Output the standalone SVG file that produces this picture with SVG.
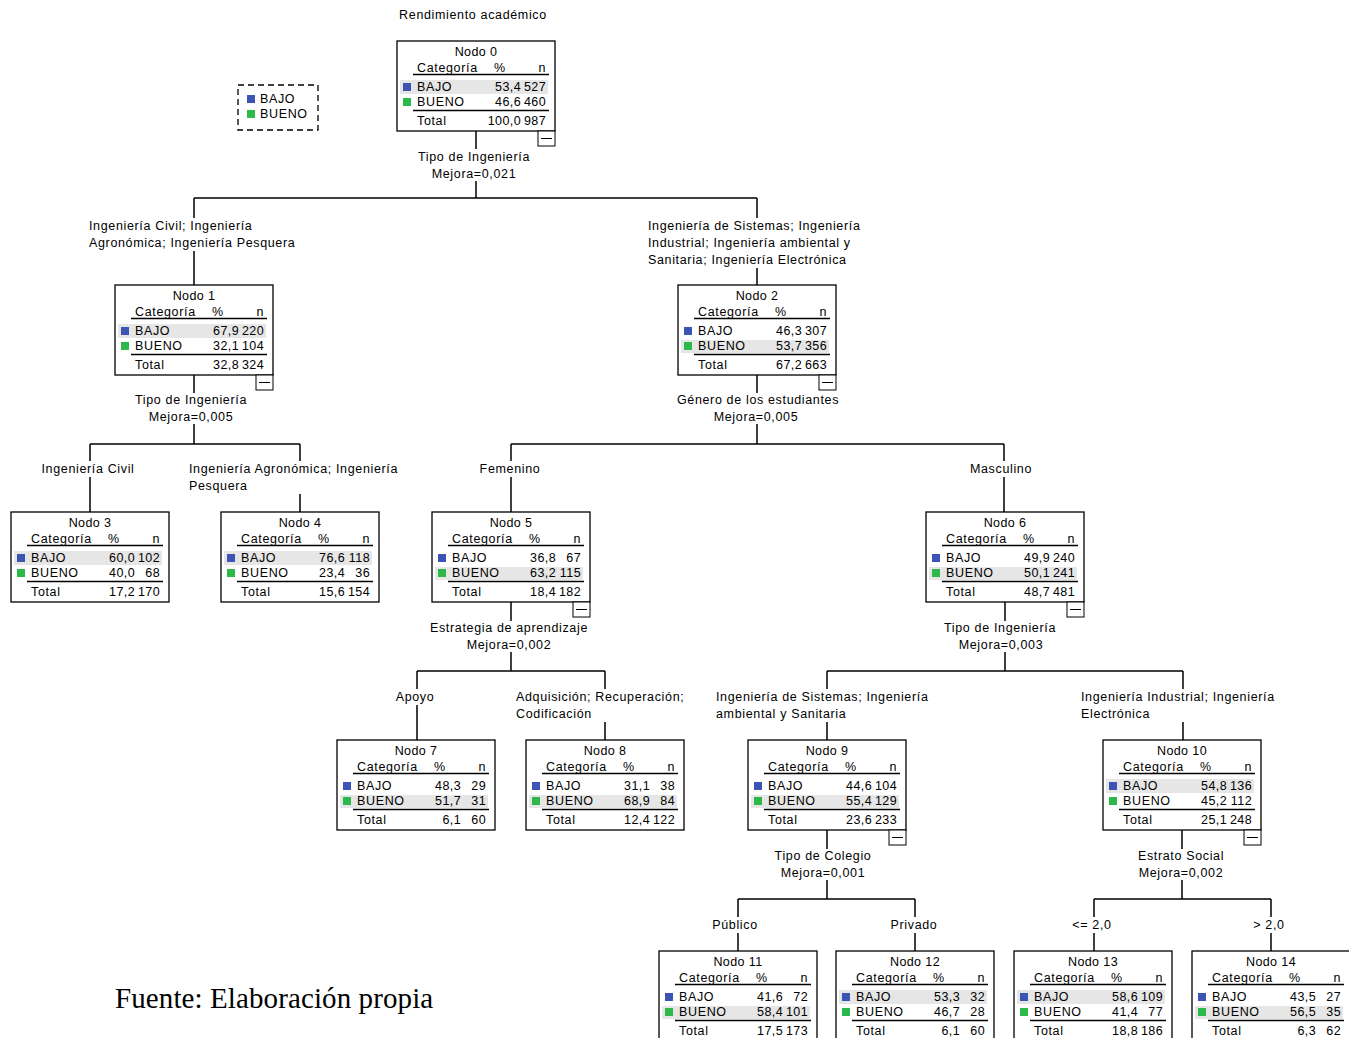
<svg xmlns="http://www.w3.org/2000/svg" width="1349" height="1038" viewBox="0 0 1349 1038">
<style>
text{font-family:"Liberation Sans",Arial,sans-serif;font-size:12.5px;letter-spacing:0.65px;fill:#000}
.nd text{letter-spacing:0.4px}
.c{text-anchor:middle}
.r{text-anchor:end}
.box{fill:#fff;stroke:#000;stroke-width:1.3}
.hl{fill:#e6e6e6}
.rule{stroke:#000;stroke-width:1.5}
.sb{fill:#3c55b4}
.sg{fill:#2db84b}
.mn{fill:#fff;stroke:#000;stroke-width:1}
.conn path{fill:none;stroke:#000;stroke-width:1.5}
.src{font-family:"Liberation Serif","Times New Roman",serif;font-size:29px;letter-spacing:0.1px}
</style>
<defs>
<g id="frame">
<rect class="box" x="0" y="0" width="158" height="90"/>
</g>
<g id="hdr">
<text x="20" y="31">Categoría</text>
<text class="c" x="103" y="31">%</text>
<text class="r" x="149" y="31">n</text>
<line class="rule" x1="16" y1="33.5" x2="152" y2="33.5"/>
<rect class="sb" x="6" y="42" width="8" height="8"/>
<text x="20" y="50">BAJO</text>
<rect class="sg" x="6" y="57" width="8" height="8"/>
<text x="20" y="65">BUENO</text>
<line class="rule" x1="16" y1="69.5" x2="152" y2="69.5"/>
<text x="20" y="84">Total</text>
</g>
<g id="hl1"><rect class="hl" x="3" y="39" width="148" height="14"/></g>
<g id="hl2"><rect class="hl" x="3" y="55" width="148" height="13"/></g>
<g id="minus">
<rect class="mn" x="141" y="90" width="17" height="15"/>
<line stroke="#000" stroke-width="1" x1="144" y1="97.5" x2="155" y2="97.5"/>
</g>
</defs>

<text class="c" x="473" y="19">Rendimiento académico</text>

<g id="legend">
<rect x="238" y="85" width="80" height="45" fill="none" stroke="#000" stroke-width="1.3" stroke-dasharray="6,4"/>
<rect class="sb" x="247" y="95" width="8" height="8"/>
<text x="260" y="103">BAJO</text>
<rect class="sg" x="247" y="110" width="8" height="8"/>
<text x="260" y="118">BUENO</text>
</g>

<g id="connectors" class="conn">
<path d="M476 130V149M476 181V198M194 198H757M194 198V218M194 251V285M757 198V218M757 268V285"/>
<path d="M194 374V393M194 424V444M90 444H300M90 444V461M90 477V512M300 444V461M300 494V512"/>
<path d="M757 374V393M757 424V444M511 444H1004M511 444V461M511 477V512M1004 444V461M1004 477V512"/>
<path d="M511 602V621M511 652V671M417 671H605M417 671V689M417 705V740M605 671V689M605 722V740"/>
<path d="M1005 602V621M1005 652V671M827 671H1183M827 671V689M827 722V740M1183 671V689M1183 722V740"/>
<path d="M827 830V849M827 880V899M738 899H915M738 899V917M738 933V951M915 899V917M915 933V951"/>
<path d="M1182 830V849M1182 880V899M1094 899H1271M1094 899V917M1094 933V951M1271 899V917M1271 933V951"/>
</g>

<g id="connector-labels">
<text class="c" x="474" y="161">Tipo de Ingeniería</text>
<text class="c" x="474" y="178">Mejora=0,021</text>
<text x="89" y="230">Ingeniería Civil; Ingeniería</text>
<text x="89" y="247">Agronómica; Ingeniería Pesquera</text>
<text x="648" y="230">Ingeniería de Sistemas; Ingeniería</text>
<text x="648" y="247">Industrial; Ingeniería ambiental y</text>
<text x="648" y="264">Sanitaria; Ingeniería Electrónica</text>
<text class="c" x="191" y="404">Tipo de Ingeniería</text>
<text class="c" x="191" y="421">Mejora=0,005</text>
<text class="c" x="88" y="473">Ingeniería Civil</text>
<text x="189" y="473">Ingeniería Agronómica; Ingeniería</text>
<text x="189" y="490">Pesquera</text>
<text class="c" x="758" y="404">Género de los estudiantes</text>
<text class="c" x="756" y="421">Mejora=0,005</text>
<text class="c" x="510" y="473">Femenino</text>
<text class="c" x="1001" y="473">Masculino</text>
<text class="c" x="509" y="632">Estrategia de aprendizaje</text>
<text class="c" x="509" y="649">Mejora=0,002</text>
<text class="c" x="415" y="701">Apoyo</text>
<text x="516" y="701">Adquisición; Recuperación;</text>
<text x="516" y="718">Codificación</text>
<text class="c" x="1000" y="632">Tipo de Ingeniería</text>
<text class="c" x="1001" y="649">Mejora=0,003</text>
<text x="716" y="701">Ingeniería de Sistemas; Ingeniería</text>
<text x="716" y="718">ambiental y Sanitaria</text>
<text x="1081" y="701">Ingeniería Industrial; Ingeniería</text>
<text x="1081" y="718">Electrónica</text>
<text class="c" x="823" y="860">Tipo de Colegio</text>
<text class="c" x="823" y="877">Mejora=0,001</text>
<text class="c" x="735" y="929">Público</text>
<text class="c" x="914" y="929">Privado</text>
<text class="c" x="1181" y="860">Estrato Social</text>
<text class="c" x="1181" y="877">Mejora=0,002</text>
<text class="c" x="1092" y="929">&lt;= 2,0</text>
<text class="c" x="1269" y="929">&gt; 2,0</text>
</g>

<g id="node0" class="nd" transform="translate(397,41)">
<use href="#frame"/><use href="#hl1"/><use href="#hdr"/><use href="#minus"/>
<text class="c" x="79" y="15">Nodo 0</text>
<text class="r" x="124" y="50">53,4</text><text class="r" x="149" y="50">527</text>
<text class="r" x="124" y="65">46,6</text><text class="r" x="149" y="65">460</text>
<text class="r" x="124" y="84">100,0</text><text class="r" x="149" y="84">987</text>
</g>

<g id="node1" class="nd" transform="translate(115,285)">
<use href="#frame"/><use href="#hl1"/><use href="#hdr"/><use href="#minus"/>
<text class="c" x="79" y="15">Nodo 1</text>
<text class="r" x="124" y="50">67,9</text><text class="r" x="149" y="50">220</text>
<text class="r" x="124" y="65">32,1</text><text class="r" x="149" y="65">104</text>
<text class="r" x="124" y="84">32,8</text><text class="r" x="149" y="84">324</text>
</g>

<g id="node2" class="nd" transform="translate(678,285)">
<use href="#frame"/><use href="#hl2"/><use href="#hdr"/><use href="#minus"/>
<text class="c" x="79" y="15">Nodo 2</text>
<text class="r" x="124" y="50">46,3</text><text class="r" x="149" y="50">307</text>
<text class="r" x="124" y="65">53,7</text><text class="r" x="149" y="65">356</text>
<text class="r" x="124" y="84">67,2</text><text class="r" x="149" y="84">663</text>
</g>

<g id="node3" class="nd" transform="translate(11,512)">
<use href="#frame"/><use href="#hl1"/><use href="#hdr"/>
<text class="c" x="79" y="15">Nodo 3</text>
<text class="r" x="124" y="50">60,0</text><text class="r" x="149" y="50">102</text>
<text class="r" x="124" y="65">40,0</text><text class="r" x="149" y="65">68</text>
<text class="r" x="124" y="84">17,2</text><text class="r" x="149" y="84">170</text>
</g>

<g id="node4" class="nd" transform="translate(221,512)">
<use href="#frame"/><use href="#hl1"/><use href="#hdr"/>
<text class="c" x="79" y="15">Nodo 4</text>
<text class="r" x="124" y="50">76,6</text><text class="r" x="149" y="50">118</text>
<text class="r" x="124" y="65">23,4</text><text class="r" x="149" y="65">36</text>
<text class="r" x="124" y="84">15,6</text><text class="r" x="149" y="84">154</text>
</g>

<g id="node5" class="nd" transform="translate(432,512)">
<use href="#frame"/><use href="#hl2"/><use href="#hdr"/><use href="#minus"/>
<text class="c" x="79" y="15">Nodo 5</text>
<text class="r" x="124" y="50">36,8</text><text class="r" x="149" y="50">67</text>
<text class="r" x="124" y="65">63,2</text><text class="r" x="149" y="65">115</text>
<text class="r" x="124" y="84">18,4</text><text class="r" x="149" y="84">182</text>
</g>

<g id="node6" class="nd" transform="translate(926,512)">
<use href="#frame"/><use href="#hl2"/><use href="#hdr"/><use href="#minus"/>
<text class="c" x="79" y="15">Nodo 6</text>
<text class="r" x="124" y="50">49,9</text><text class="r" x="149" y="50">240</text>
<text class="r" x="124" y="65">50,1</text><text class="r" x="149" y="65">241</text>
<text class="r" x="124" y="84">48,7</text><text class="r" x="149" y="84">481</text>
</g>

<g id="node7" class="nd" transform="translate(337,740)">
<use href="#frame"/><use href="#hl2"/><use href="#hdr"/>
<text class="c" x="79" y="15">Nodo 7</text>
<text class="r" x="124" y="50">48,3</text><text class="r" x="149" y="50">29</text>
<text class="r" x="124" y="65">51,7</text><text class="r" x="149" y="65">31</text>
<text class="r" x="124" y="84">6,1</text><text class="r" x="149" y="84">60</text>
</g>

<g id="node8" class="nd" transform="translate(526,740)">
<use href="#frame"/><use href="#hl2"/><use href="#hdr"/>
<text class="c" x="79" y="15">Nodo 8</text>
<text class="r" x="124" y="50">31,1</text><text class="r" x="149" y="50">38</text>
<text class="r" x="124" y="65">68,9</text><text class="r" x="149" y="65">84</text>
<text class="r" x="124" y="84">12,4</text><text class="r" x="149" y="84">122</text>
</g>

<g id="node9" class="nd" transform="translate(748,740)">
<use href="#frame"/><use href="#hl2"/><use href="#hdr"/><use href="#minus"/>
<text class="c" x="79" y="15">Nodo 9</text>
<text class="r" x="124" y="50">44,6</text><text class="r" x="149" y="50">104</text>
<text class="r" x="124" y="65">55,4</text><text class="r" x="149" y="65">129</text>
<text class="r" x="124" y="84">23,6</text><text class="r" x="149" y="84">233</text>
</g>

<g id="node10" class="nd" transform="translate(1103,740)">
<use href="#frame"/><use href="#hl1"/><use href="#hdr"/><use href="#minus"/>
<text class="c" x="79" y="15">Nodo 10</text>
<text class="r" x="124" y="50">54,8</text><text class="r" x="149" y="50">136</text>
<text class="r" x="124" y="65">45,2</text><text class="r" x="149" y="65">112</text>
<text class="r" x="124" y="84">25,1</text><text class="r" x="149" y="84">248</text>
</g>

<g id="node11" class="nd" transform="translate(659,951)">
<use href="#frame"/><use href="#hl2"/><use href="#hdr"/>
<text class="c" x="79" y="15">Nodo 11</text>
<text class="r" x="124" y="50">41,6</text><text class="r" x="149" y="50">72</text>
<text class="r" x="124" y="65">58,4</text><text class="r" x="149" y="65">101</text>
<text class="r" x="124" y="84">17,5</text><text class="r" x="149" y="84">173</text>
</g>

<g id="node12" class="nd" transform="translate(836,951)">
<use href="#frame"/><use href="#hl1"/><use href="#hdr"/>
<text class="c" x="79" y="15">Nodo 12</text>
<text class="r" x="124" y="50">53,3</text><text class="r" x="149" y="50">32</text>
<text class="r" x="124" y="65">46,7</text><text class="r" x="149" y="65">28</text>
<text class="r" x="124" y="84">6,1</text><text class="r" x="149" y="84">60</text>
</g>

<g id="node13" class="nd" transform="translate(1014,951)">
<use href="#frame"/><use href="#hl1"/><use href="#hdr"/>
<text class="c" x="79" y="15">Nodo 13</text>
<text class="r" x="124" y="50">58,6</text><text class="r" x="149" y="50">109</text>
<text class="r" x="124" y="65">41,4</text><text class="r" x="149" y="65">77</text>
<text class="r" x="124" y="84">18,8</text><text class="r" x="149" y="84">186</text>
</g>

<g id="node14" class="nd" transform="translate(1192,951)">
<use href="#frame"/><use href="#hl2"/><use href="#hdr"/>
<text class="c" x="79" y="15">Nodo 14</text>
<text class="r" x="124" y="50">43,5</text><text class="r" x="149" y="50">27</text>
<text class="r" x="124" y="65">56,5</text><text class="r" x="149" y="65">35</text>
<text class="r" x="124" y="84">6,3</text><text class="r" x="149" y="84">62</text>
</g>

<text class="src" x="115" y="1008">Fuente: Elaboración propia</text>
</svg>
